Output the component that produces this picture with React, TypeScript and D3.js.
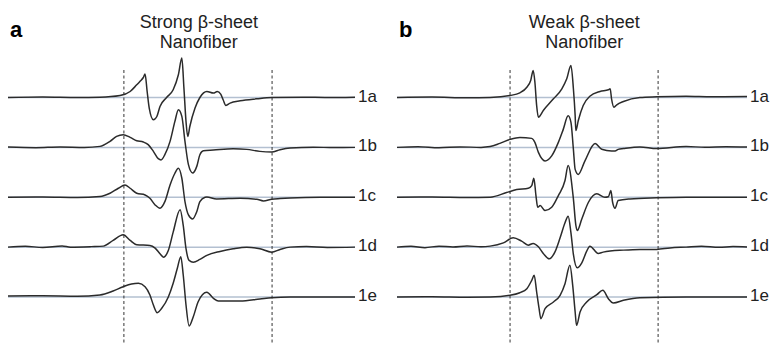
import React from "react";
import * as d3 from "d3";

// sample labels, one trace per row
const samples = ["1a", "1b", "1c", "1d", "1e"];

// field offset (G) of the two dashed reference lines
const strongMarkers = [33.4, 76.1];
const weakMarkers = [32.3, 74.6];

// spectra: [field offset (G), derivative intensity (a.u.)]
const strong1a = [[0,0],[10,0.5],[20,0],[26.5,0.3],[32.3,2],[35.2,6],[37.1,12.7],[38.0,16],[39.0,20],[39.5,23.4],[40.1,6],[40.7,-10.6],[41.9,-22.3],[42.9,-19],[43.8,-9],[45.7,0],[47.6,7.7],[49.1,22.7],[50.1,39.4],[50.7,9.4],[51.3,-24],[51.8,-39],[52.4,-29],[53.9,-10.6],[55.3,0],[57.3,6],[59.2,4.4],[60.3,6],[61.3,3.4],[62.0,-2.3],[62.8,-8],[64.0,-5.6],[66.9,-3.3],[71.7,-1.3],[76.0,0],[85,0.3],[92,0],[100,0.2]];
const strong1b = [[0,0.3],[8,-0.3],[15,0.4],[22,0],[26.5,1],[29.4,6],[31.3,11],[33.2,12.7],[35.2,10],[37.1,6.7],[39.0,5.4],[40.4,2.7],[41.9,-4],[43.3,-11.3],[44.1,-12.6],[45.2,-7.3],[46.7,6],[48.1,26],[49.1,37.7],[50.1,31],[51.0,6],[52.0,-17.3],[53.2,-25.6],[54.4,-19],[55.3,-7.3],[56.3,-3.3],[59.2,-2.6],[64.9,-1.3],[68.8,-2],[72.6,-4],[76.0,-4.6],[78.4,-2.3],[81.3,-0.6],[88,0.2],[94,-0.2],[100,0]];
const strong1c = [[0,0],[10,0.3],[20,-0.2],[26.5,0.7],[29.4,4],[31.8,9],[33.7,12.3],[35.2,9],[37.1,4],[39.5,2.3],[40.9,-1],[42.4,-7.7],[43.8,-11],[45.2,-4.4],[46.7,12.3],[48.1,24],[49.1,29],[50.1,19],[51.0,-4.4],[52.0,-17.7],[53.2,-21.7],[54.4,-14.4],[55.3,-4.4],[56.8,0],[57.3,0.3],[60.1,-1.7],[66.9,-1],[71.7,-2],[73.6,-3.7],[76.0,-2],[78.4,-1.3],[81.3,-0.7],[90,0],[100,0]];
const strong1d = [[0,0],[5,0.8],[10,-0.3],[15.6,1.2],[18,0],[24,0.5],[27.5,1],[30.3,6.7],[33.2,12.4],[35.2,6.7],[37.1,2.4],[40.9,1.7],[42.4,-1],[43.8,-6.6],[44.8,-10],[46.2,-3.3],[47.6,15],[49.6,37.4],[50.5,21.7],[51.3,-1.6],[52.2,-13.3],[53.4,-15],[55.3,-12.3],[57.3,-8.3],[61.1,-4.3],[64.9,-1.6],[68.8,0],[72.6,-1.6],[76.0,-5],[78.4,-2.3],[81.3,0],[86,0.6],[92,-0.3],[100,0]];
const strong1e = [[0,1],[10,1.2],[20,0.8],[26.5,2],[30.3,6],[33.2,10.3],[35.6,13],[37.6,13.7],[39.5,10.3],[40.9,2],[41.9,-8],[43.0,-15.7],[44.3,-11.3],[46.2,0],[47.6,13.7],[48.8,28.7],[49.8,40.3],[50.5,22],[51.3,-8],[52.2,-29],[53.4,-19.7],[54.8,-4.7],[57.3,4.7],[59.2,-1.3],[60.6,-4],[66.9,-4],[72.6,-2],[76.0,-0.7],[81.3,0],[100,0]];

const weak1a = [[0,0],[10,0.4],[20,-0.3],[26.6,0],[32.3,2],[35.1,4.7],[37.1,10.3],[38.2,17],[38.9,27],[39.4,15.3],[39.9,-8],[40.4,-19.7],[41.8,-13],[44.7,-1.3],[47.1,8.7],[48.5,18.7],[49.7,32],[50.4,8.7],[50.9,-18],[51.1,-33],[51.8,-23],[53.2,-8],[55.1,1.3],[58.0,6],[60.4,7.7],[60.9,8.7],[61.3,-1.3],[62.0,-9.7],[62.8,-7.3],[64.7,-4],[69.4,0],[74.2,0.7],[82.6,1.3],[90,0.8],[100,1]];
const weak1b = [[0,0],[6,0.6],[12,-0.4],[18,0.5],[24,0],[26.6,0.8],[29.4,4],[32.3,8],[35.1,10],[38.5,9],[39.4,5],[40.4,-5],[42.3,-13.5],[44.2,-8.5],[46.1,5],[47.5,18],[48.9,31.5],[49.7,25],[50.4,-2],[50.9,-22],[51.8,-27],[53.7,-13.5],[56.6,3.8],[58.5,-1.8],[61.3,-3.5],[62.3,-3.5],[63.2,-2],[64.7,-1.2],[69.4,0.5],[74.2,-1.2],[82.6,0.8],[88,0.2],[94,0.7],[100,0.3]];
const weak1c = [[0,0],[10,0.2],[20,-0.3],[26.6,0],[31.3,4.7],[34.2,7.7],[37.5,9],[38.5,11.7],[39.1,19],[39.7,1.7],[40.2,-10],[40.9,-8.3],[42.3,-13.3],[44.2,-10],[46.1,1.7],[48.0,16.7],[48.9,31.7],[50.4,-1.6],[51.1,-28],[51.5,-33.3],[52.8,-21.7],[54.7,-5],[57.1,3.4],[59.4,0],[60.4,0.5],[61.1,6.7],[61.6,-5],[62.3,-11],[63.2,-3.3],[66.6,-1.7],[74.2,-0.6],[82.6,0],[100,0]];
const weak1d = [[0,0],[4,0.8],[8,-0.5],[12,1],[16,0.2],[20,1.2],[24,0.3],[26.6,1],[30.4,4.3],[33.2,9.3],[35.6,6],[37.5,2],[38.9,3.7],[40.4,0.3],[41.8,-6.3],[43.5,-11.7],[45.1,-5],[46.6,9.3],[48.0,24.3],[48.9,31],[49.7,14.3],[50.4,-7.3],[51.5,-20.7],[52.8,-15.7],[54.2,-4],[55.1,1],[57.5,-6.3],[58.9,-5],[64.7,-3],[69.4,-2.3],[74.2,-2.3],[78,-0.8],[82.6,0],[87,0.8],[92,-0.2],[96,0.6],[100,0.2]];
const weak1e = [[0,0],[10,0.3],[20,-0.2],[26.6,0],[32.3,1.7],[35.1,4.3],[37.1,8.3],[38.5,16.7],[39.2,21.7],[39.9,5],[40.6,-11.7],[41.1,-21.7],[42.3,-11.7],[44.7,-5],[46.6,1.7],[48.0,13.3],[49.4,31.7],[50.2,11.7],[50.9,-15],[51.3,-28.3],[52.3,-15],[54.2,-5],[57.1,2.3],[58.8,6.7],[60.4,-1.7],[61.8,-6],[64.7,-3.3],[69.4,-0.7],[82.6,0],[100,0]];

const W = 773;
const H = 344;
const FONT = "'Liberation Sans', Arial, sans-serif";

const rowY = d3.scalePoint().domain(samples).range([97.5, 297]);
const amp = d3.scaleLinear().domain([-50, 50]).range([50, -50]);

function Panel({ letter, title, markers, traces, x0, x1, titleAt }) {
  const x = d3.scaleLinear().domain([0, 100]).range([x0, x1]);
  const mid = x(titleAt);

  return (
    <g>
      <text x={x0 + 2} y={37} fontSize={22} fontWeight="bold" fontFamily={FONT}>
        {letter}
      </text>
      <text x={mid} y={28} fontSize={18} textAnchor="middle" fontFamily={FONT} fill="#222">
        {title} β-sheet
      </text>
      <text x={mid} y={48} fontSize={18} textAnchor="middle" fontFamily={FONT} fill="#222">
        Nanofiber
      </text>

      {/* baselines */}
      {samples.map((s) => (
        <line key={"b" + s} x1={x(0)} x2={x(100)} y1={rowY(s)} y2={rowY(s)}
          stroke="#b3c0d1" strokeWidth={1.5} />
      ))}

      {markers.map((m) => (
        <line key={"m" + m} x1={x(m)} x2={x(m)} y1={70} y2={H}
          stroke="#333" strokeWidth={1} strokeDasharray="3,2.5" />
      ))}

      {traces.map((pts, i) => {
        const base = rowY(samples[i]);
        const line = d3.line()
          .x((d) => x(d[0]))
          .y((d) => base + amp(d[1]))
          .curve(d3.curveMonotoneX);
        return (
          <path key={"t" + i} d={line(pts)} fill="none" stroke="#2b2b2b"
            strokeWidth={1.5} strokeLinejoin="round" />
        );
      })}

      {samples.map((s) => (
        <text key={"l" + s} x={x(100) + 3} y={rowY(s) + 4} fontSize={17}
          fontFamily={FONT} fill="#222">
          {s}
        </text>
      ))}
    </g>
  );
}

export default function App() {
  return (
    <svg width={W} height={H} style={{ position: "absolute", left: 0, top: 0, background: "#fff" }}>
      <Panel letter="a" title="Strong" markers={strongMarkers} titleAt={55}
        traces={[strong1a, strong1b, strong1c, strong1d, strong1e]} x0={8} x1={355} />
      <Panel letter="b" title="Weak" markers={weakMarkers} titleAt={53.5}
        traces={[weak1a, weak1b, weak1c, weak1d, weak1e]} x0={397} x1={747} />
    </svg>
  );
}
